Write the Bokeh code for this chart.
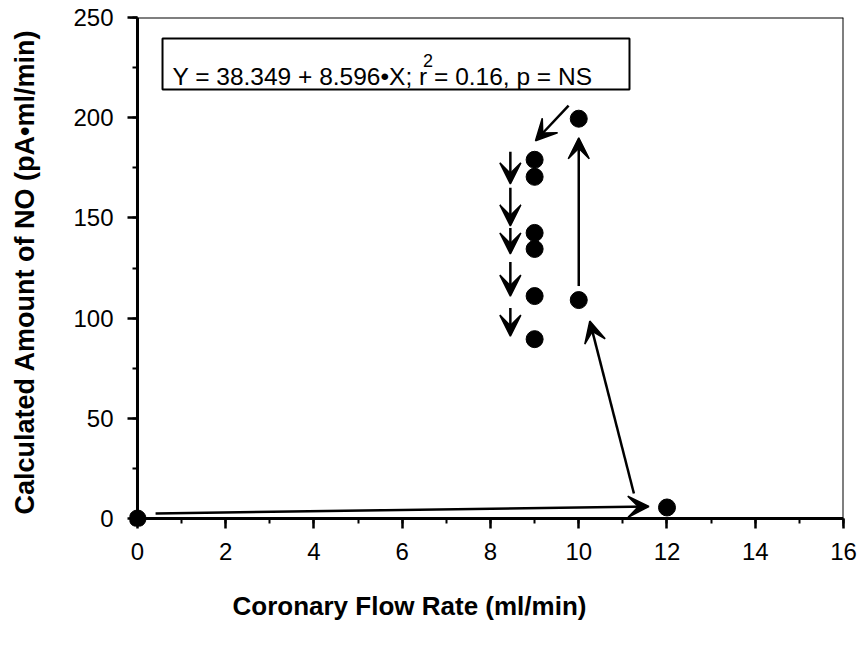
from bokeh.plotting import figure
from bokeh.models import (Range1d, SingleIntervalTicker, ColumnDataSource, Arrow, VeeHead,
                          Span, BoxAnnotation, Label, Title)
from bokeh.embed import file_html
from bokeh.resources import INLINE

# ---- data ----
flow_rate = [0, 12, 10, 10, 9, 9, 9, 9, 9, 9]            # ml/min
no_amount = [0, 5.5, 109, 199.5, 179, 170.5, 142.5, 134.5, 111, 89.5]  # pA·ml/min

arrow_x_start = [0.41, 11.25, 10.0, 9.77, 8.45, 8.45, 8.45, 8.45, 8.45]
arrow_y_start = [2.5, 12.5, 116, 206, 183, 165, 145, 128, 105]
arrow_x_end = [11.59, 10.25, 10.0, 9.02, 8.45, 8.45, 8.45, 8.45, 8.45]
arrow_y_end = [6, 98.5, 190, 188.5, 167, 146, 132, 111, 91]

x_ticks_interval = 2
y_ticks_interval = 50

x_title = "Coronary Flow Rate (ml/min)"
y_title = "Calculated Amount of NO (pA\u2022ml/min)"
eq_main = "Y = 38.349 + 8.596\u2022X; r"
eq_sup = "2"
eq_rest = " = 0.16, p = NS"

FONT = "Liberation Sans"

p = figure(width=859, height=647, output_backend="svg", toolbar_location=None,
           x_range=Range1d(-0.1813, 16), y_range=Range1d(-3.99, 250),
           min_border_left=129, min_border_right=16, min_border_top=17, min_border_bottom=121)
p.background_fill_color = "white"
p.border_fill_color = "white"
p.outline_line_color = None
p.xgrid.visible = False
p.ygrid.visible = False

# axes styling
for ax in (p.xaxis[0], p.yaxis[0]):
    ax.axis_line_color = None
    ax.major_tick_line_color = "black"
    ax.minor_tick_line_color = "black"
    ax.major_tick_line_width = 2.5
    ax.minor_tick_line_width = 2
    ax.major_tick_in = 8
    ax.major_tick_out = 2
    ax.minor_tick_in = 8
    ax.minor_tick_out = -3
    ax.major_label_text_font = FONT
    ax.major_label_text_font_size = "24px"
    ax.major_label_text_color = "black"

p.xaxis.ticker = SingleIntervalTicker(interval=x_ticks_interval, num_minor_ticks=2)
p.yaxis.ticker = SingleIntervalTicker(interval=y_ticks_interval, num_minor_ticks=2)
p.xaxis.major_label_standoff = 14
p.yaxis.major_label_standoff = 14

p.yaxis.axis_label = y_title
p.yaxis.axis_label_text_font = FONT
p.yaxis.axis_label_text_font_size = "27px"
p.yaxis.axis_label_text_font_style = "bold"
p.yaxis.axis_label_text_color = "black"
p.yaxis.axis_label_standoff = 30

# x-axis title (left-shifted in the reference)
p.add_layout(Title(text=x_title, align="left", offset=103,
                   text_font=FONT, text_font_size="26px", text_font_style="bold",
                   text_color="black", standoff=52), "below")

# frame lines (axes at 0 and box at max)
p.add_layout(Span(location=0, dimension="height", line_color="black", line_width=3))
p.add_layout(Span(location=0, dimension="width", line_color="black", line_width=3))
p.add_layout(Span(location=16, dimension="height", line_color="black", line_width=2))
p.add_layout(Span(location=250, dimension="width", line_color="black", line_width=2))

# arrows
arrow_src = ColumnDataSource(dict(x0=arrow_x_start, y0=arrow_y_start, x1=arrow_x_end, y1=arrow_y_end))
p.add_layout(Arrow(source=arrow_src, x_start="x0", y_start="y0", x_end="x1", y_end="y1",
                   line_color="black", line_width=2.5,
                   end=VeeHead(size=21, fill_color="black", line_color="black", line_width=1.5)))

# points
p.scatter(flow_rate, no_amount, size=17, marker="circle", fill_color="black", line_color="black")

# equation box
p.add_layout(BoxAnnotation(left=0.567, right=11.15, top=239.5, bottom=214.1,
                           fill_color="white", fill_alpha=1.0, line_color="black",
                           line_alpha=1.0, line_width=2))
p.add_layout(Label(x=0.793, y=220.6, text=eq_main, text_font=FONT, text_font_size="24.5px",
                   text_color="black", text_baseline="alphabetic"))
p.add_layout(Label(x=6.47, y=228.5, text=eq_sup, text_font=FONT, text_font_size="18px",
                   text_color="black", text_baseline="alphabetic"))
p.add_layout(Label(x=6.72, y=220.6, text=eq_rest, text_font=FONT, text_font_size="24.5px",
                   text_color="black", text_baseline="alphabetic"))

open("out.html", "w").write(file_html(p, INLINE))
